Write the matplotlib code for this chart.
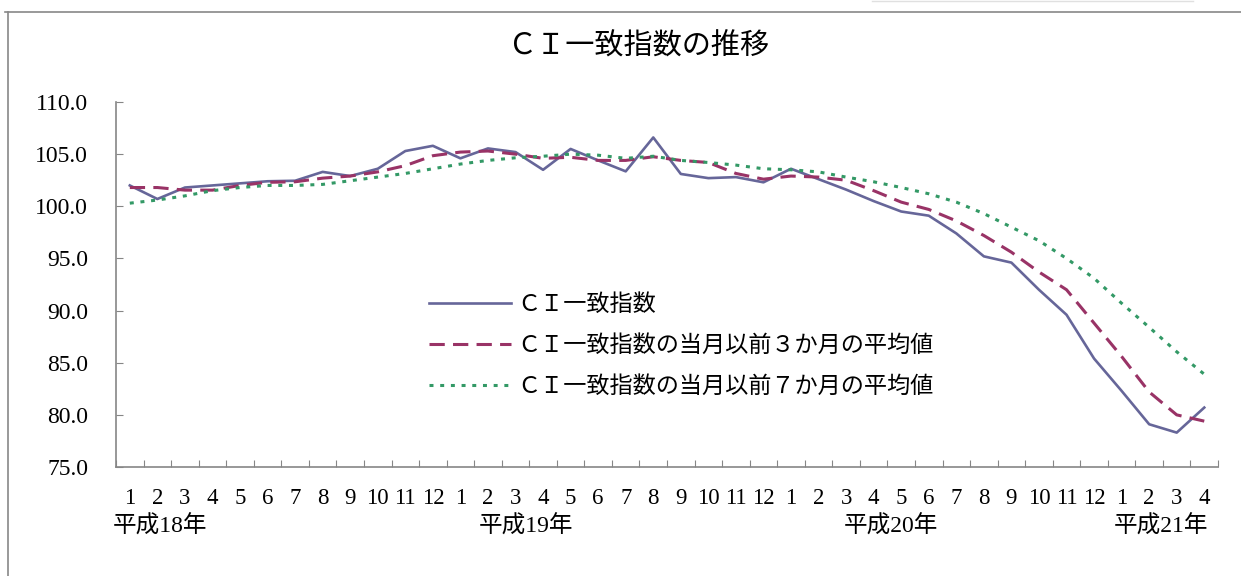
import numpy as np
import matplotlib
matplotlib.use('Agg')
import matplotlib.pyplot as plt
from matplotlib.lines import Line2D
from matplotlib.ticker import FuncFormatter
from matplotlib.transforms import blended_transform_factory

plt.rcParams['font.family'] = ['Liberation Serif', 'Noto Sans CJK JP']

# months H18.1 - H21.4
months = [1, 2, 3, 4, 5, 6, 7, 8, 9, 10, 11, 12,
          1, 2, 3, 4, 5, 6, 7, 8, 9, 10, 11, 12,
          1, 2, 3, 4, 5, 6, 7, 8, 9, 10, 11, 12,
          1, 2, 3, 4]
years = ['平成18年', '平成19年', '平成20年', '平成21年']

ci = [102.0, 100.7, 101.8, 102.0, 102.2, 102.4, 102.45, 103.3, 102.9, 103.6,
      105.3, 105.8, 104.6, 105.55, 105.2, 103.5, 105.5, 104.4, 103.35, 106.6,
      103.1, 102.7, 102.8, 102.3, 103.6, 102.6, 101.6, 100.5, 99.5, 99.1,
      97.4, 95.2, 94.6, 92.0, 89.6, 85.4, 82.3, 79.1, 78.3, 80.7]

avg3 = [101.8, 101.8, 101.55, 101.55, 102.0, 102.3, 102.35, 102.7, 102.9, 103.3,
        103.9, 104.85, 105.2, 105.3, 105.0, 104.6, 104.7, 104.4, 104.4, 104.75,
        104.4, 104.2, 103.15, 102.6, 102.9, 102.8, 102.5, 101.5, 100.4, 99.7,
        98.6, 97.2, 95.6, 93.7, 92.0, 88.8, 85.6, 82.2, 80.0, 79.4]

avg7 = [100.3, 100.6, 101.0, 101.5, 101.8, 102.0, 102.0, 102.1, 102.45, 102.8,
        103.15, 103.6, 104.05, 104.4, 104.65, 104.8, 105.0, 104.9, 104.6, 104.8,
        104.4, 104.2, 103.95, 103.6, 103.5, 103.3, 102.8, 102.35, 101.8, 101.2,
        100.4, 99.3, 98.0, 96.7, 95.0, 93.1, 90.7, 88.4, 86.05, 83.9]

labels = ['ＣＩ一致指数',
          'ＣＩ一致指数の当月以前３か月の平均値',
          'ＣＩ一致指数の当月以前７か月の平均値']

x = np.arange(len(ci))

fig = plt.figure(figsize=(12.41, 5.76), dpi=100)
ax = fig.add_axes([0.0935, 0.1892, 0.888, 0.6337])

ax.plot(x, ci, color='#666699', lw=1.9, label=labels[0])
ax.plot(x, avg3, color='#993366', lw=2.2, linestyle=(0, (5, 2.7)), label=labels[1])
ax.plot(x, avg7, color='#339966', lw=2.2, linestyle=(0, (1.3, 2.2)), label=labels[2])

ax.set_xlim(-0.5, len(ci) - 0.5)
ax.set_ylim(75, 110)
ax.set_yticks(np.arange(75, 111, 5))
ax.yaxis.set_major_formatter(FuncFormatter(lambda v, p: '%.1f' % v))

# tick marks between months, labels at month centres
ax.set_xticks(np.arange(-0.5, len(ci), 1))
ax.set_xticklabels([])
ax.set_xticks(x, minor=True)
ax.set_xticklabels([str(m) for m in months], minor=True)
ax.tick_params(axis='x', which='major', direction='in', length=5, color='#868686')
ax.tick_params(axis='x', which='minor', length=0, pad=15, labelsize=16.5)
ax.tick_params(axis='y', direction='in', length=5, color='#868686', pad=20, labelsize=17)

for s in ['top', 'right']:
    ax.spines[s].set_visible(False)
for s in ['left', 'bottom']:
    ax.spines[s].set_color('#868686')
    ax.spines[s].set_linewidth(1.2)

# year labels under the months
trans = blended_transform_factory(ax.transData, ax.transAxes)
year_pos = [-0.62, 12.66, 25.9, 35.7]
for xp, yl in zip(year_pos, years):
    ax.text(xp, -0.164, yl, transform=trans, ha='left', va='center', fontsize=17)

leg = ax.legend(loc='upper left', bbox_to_anchor=(0.346, 0.489),
                bbox_transform=fig.transFigure, frameon=False, fontsize=16.7,
                handlelength=3.5, handletextpad=0.3, labelspacing=0.82,
                borderpad=0, borderaxespad=0)

fig.text(0.514, 1 - 47 / 576, 'ＣＩ一致指数の推移', ha='center', va='center', fontsize=21)

# outer chart frame
fig.add_artist(Line2D([5 / 1241, 1], [1 - 12 / 576, 1 - 12 / 576], transform=fig.transFigure,
                      color='#888888', lw=1.2))
fig.add_artist(Line2D([8 / 1241, 8 / 1241], [0, 1 - 12 / 576], transform=fig.transFigure,
                      color='#888888', lw=1.2))
fig.add_artist(Line2D([872 / 1241, 1193 / 1241], [1 - 1 / 576, 1 - 1 / 576], transform=fig.transFigure,
                      color='#e0e0e0', lw=1.0))

fig.savefig('out.png', dpi=100)
